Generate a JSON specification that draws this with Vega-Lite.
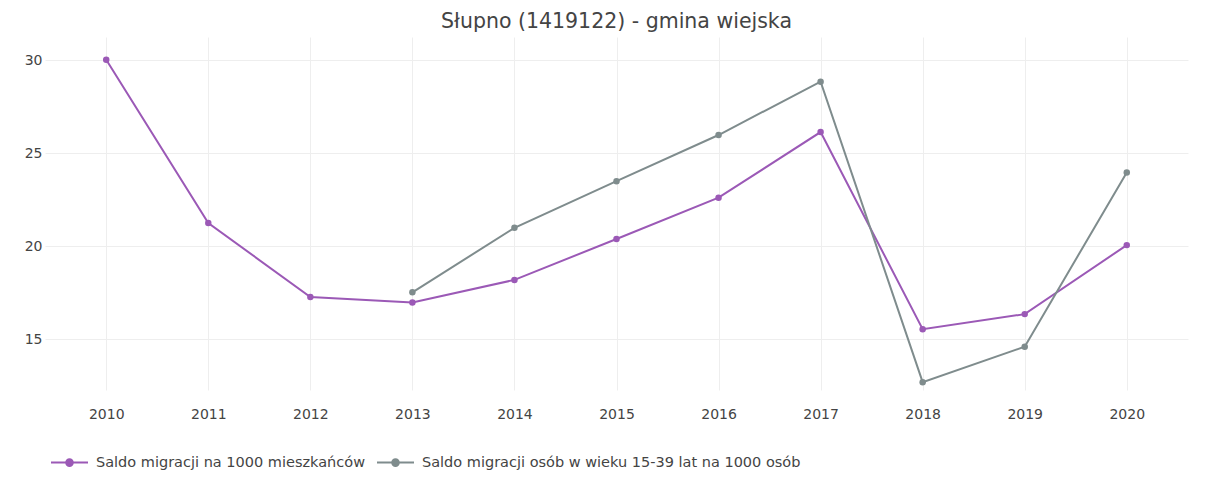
{
  "$schema": "https://vega.github.io/schema/vega-lite/v6.json",
  "width": 1143,
  "height": 353,
  "autosize": {"type": "none"},
  "padding": {"left": 45, "top": 37, "right": 29, "bottom": 98},
  "background": "white",
  "title": {
    "text": "Słupno (1419122) - gmina wiejska",
    "font": "DejaVu Sans",
    "fontSize": 20.5,
    "fontWeight": "normal",
    "color": "#444444",
    "anchor": "middle",
    "offset": 5
  },
  "config": {
    "view": {"stroke": null},
    "axis": {
      "labelFont": "DejaVu Sans",
      "labelFontSize": 14,
      "labelColor": "#444444",
      "gridColor": "#eeeeee",
      "gridWidth": 1,
      "domain": false,
      "ticks": false,
      "tickSize": 0,
      "title": null
    }
  },
  "data": {
    "values": [
      {"seria": "Saldo migracji na 1000 mieszkańców", "rok": 2010, "wartosc": 30.02},
      {"seria": "Saldo migracji na 1000 mieszkańców", "rok": 2011, "wartosc": 21.24},
      {"seria": "Saldo migracji na 1000 mieszkańców", "rok": 2012, "wartosc": 17.26},
      {"seria": "Saldo migracji na 1000 mieszkańców", "rok": 2013, "wartosc": 16.97},
      {"seria": "Saldo migracji na 1000 mieszkańców", "rok": 2014, "wartosc": 18.18},
      {"seria": "Saldo migracji na 1000 mieszkańców", "rok": 2015, "wartosc": 20.38},
      {"seria": "Saldo migracji na 1000 mieszkańców", "rok": 2016, "wartosc": 22.6},
      {"seria": "Saldo migracji na 1000 mieszkańców", "rok": 2017, "wartosc": 26.13},
      {"seria": "Saldo migracji na 1000 mieszkańców", "rok": 2018, "wartosc": 15.53},
      {"seria": "Saldo migracji na 1000 mieszkańców", "rok": 2019, "wartosc": 16.34},
      {"seria": "Saldo migracji na 1000 mieszkańców", "rok": 2020, "wartosc": 20.05},
      {"seria": "Saldo migracji osób w wieku 15-39 lat na 1000 osób", "rok": 2013, "wartosc": 17.51},
      {"seria": "Saldo migracji osób w wieku 15-39 lat na 1000 osób", "rok": 2014, "wartosc": 20.98},
      {"seria": "Saldo migracji osób w wieku 15-39 lat na 1000 osób", "rok": 2015, "wartosc": 23.49},
      {"seria": "Saldo migracji osób w wieku 15-39 lat na 1000 osób", "rok": 2016, "wartosc": 25.97},
      {"seria": "Saldo migracji osób w wieku 15-39 lat na 1000 osób", "rok": 2017, "wartosc": 28.84},
      {"seria": "Saldo migracji osób w wieku 15-39 lat na 1000 osób", "rok": 2018, "wartosc": 12.68},
      {"seria": "Saldo migracji osób w wieku 15-39 lat na 1000 osób", "rok": 2019, "wartosc": 14.59},
      {"seria": "Saldo migracji osób w wieku 15-39 lat na 1000 osób", "rok": 2020, "wartosc": 23.96}
    ]
  },
  "mark": {"type": "line", "strokeWidth": 2, "point": {"filled": true, "size": 42, "opacity": 1}},
  "encoding": {
    "x": {
      "field": "rok",
      "type": "quantitative",
      "scale": {"domain": [2009.4, 2020.6], "nice": false, "zero": false},
      "axis": {"values": [2010, 2011, 2012, 2013, 2014, 2015, 2016, 2017, 2018, 2019, 2020], "format": "d", "labelPadding": 17}
    },
    "y": {
      "field": "wartosc",
      "type": "quantitative",
      "scale": {"domain": [12.26, 31.24], "nice": false, "zero": false},
      "axis": {"values": [15, 20, 25, 30], "labelPadding": 3}
    },
    "color": {
      "field": "seria",
      "type": "nominal",
      "scale": {
        "domain": ["Saldo migracji na 1000 mieszkańców", "Saldo migracji osób w wieku 15-39 lat na 1000 osób"],
        "range": ["#9b59b6", "#7f8c8d"]
      },
      "legend": {
        "title": null,
        "orient": "none",
        "legendX": 5,
        "legendY": 406,
        "direction": "horizontal",
        "symbolType": "M-1,0H1M-0.18,0a0.18,0.18 0 1,0 0.36,0a0.18,0.18 0 1,0 -0.36,0",
        "symbolSize": 1369,
        "symbolStrokeWidth": 2,
        "labelFont": "DejaVu Sans",
        "labelFontSize": 14.5,
        "labelColor": "#444444",
        "labelOffset": 7,
        "columnPadding": 7,
        "labelLimit": 600,
        "encode": {"symbols": {"update": {"fill": {"scale": "color", "field": "value"}}}}
      }
    }
  }
}
